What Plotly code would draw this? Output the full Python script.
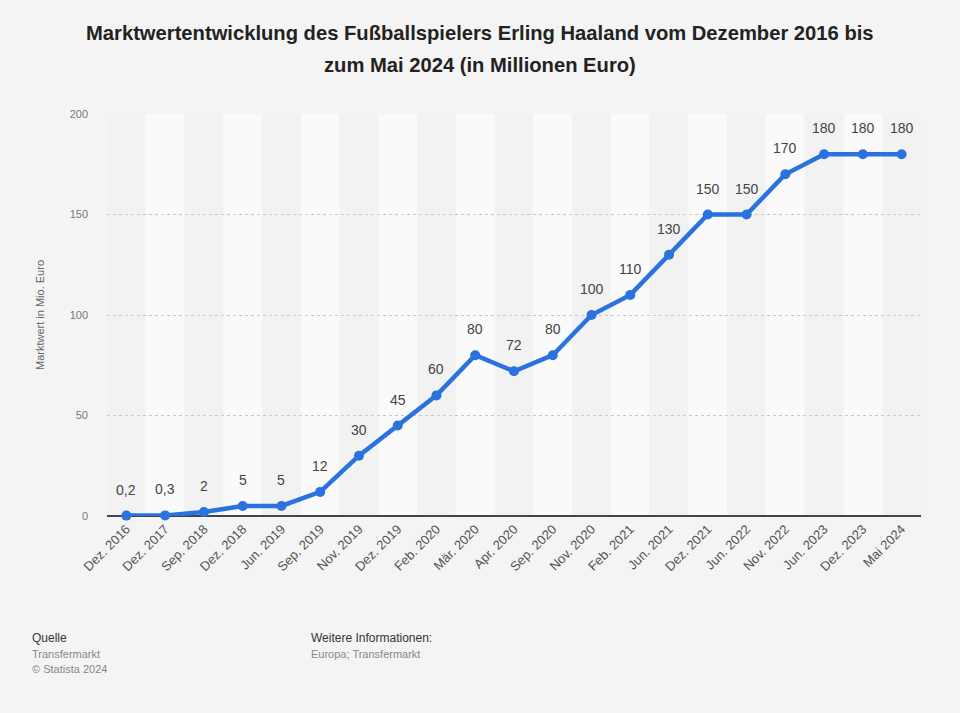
import plotly.graph_objects as go

categories = ["Dez. 2016", "Dez. 2017", "Sep. 2018", "Dez. 2018", "Jun. 2019", "Sep. 2019",
              "Nov. 2019", "Dez. 2019", "Feb. 2020", "Mär. 2020", "Apr. 2020", "Sep. 2020",
              "Nov. 2020", "Feb. 2021", "Jun. 2021", "Dez. 2021", "Jun. 2022", "Nov. 2022",
              "Jun. 2023", "Dez. 2023", "Mai 2024"]
values = [0.2, 0.3, 2, 5, 5, 12, 30, 45, 60, 80, 72, 80, 100, 110, 130, 150, 150, 170, 180, 180, 180]
labels = ["0,2", "0,3", "2", "5", "5", "12", "30", "45", "60", "80", "72", "80", "100", "110",
          "130", "150", "150", "170", "180", "180", "180"]
y_ticks = [0, 50, 100, 150, 200]

FONT = "Liberation Sans, Arial, sans-serif"
W, H = 960, 713
ML, MR, MT, MB = 107, 39, 114, 197

fig = go.Figure()
fig.add_trace(go.Scatter(
    x=list(range(len(categories))), y=values,
    mode="lines+markers",
    line=dict(color="#2a72de", width=4.5),
    marker=dict(color="#2a72de", size=10),
    cliponaxis=False, hoverinfo="skip",
))

for i, (v, t) in enumerate(zip(values, labels)):
    fig.add_annotation(x=i, y=v, xref="x", yref="y", text=t, showarrow=False,
                       yshift=26, font=dict(family=FONT, size=14, color="#444444"))

shapes = []
for i in range(len(categories)):
    shapes.append(dict(type="rect", xref="x", yref="y", x0=i - 0.5, x1=i + 0.5,
                       y0=0, y1=200, layer="below", line=dict(width=0),
                       fillcolor="#f2f2f2" if i % 2 == 0 else "#fafafa"))

fig.update_layout(
    width=W, height=H,
    paper_bgcolor="#f4f4f4", plot_bgcolor="#f4f4f4",
    margin=dict(l=ML, r=MR, t=MT, b=MB),
    shapes=shapes,
    showlegend=False,
    font=dict(family=FONT),
    xaxis=dict(
        tickmode="array", tickvals=list(range(len(categories))), ticktext=categories,
        range=[-0.5, len(categories) - 0.5], tickangle=-45,
        tickfont=dict(family=FONT, size=13, color="#555555"),
        showgrid=False, zeroline=False, showline=False, ticks="",
        automargin=False, ticklabelstandoff=2,
    ),
    yaxis=dict(
        range=[0, 200], tickvals=y_ticks,
        tickfont=dict(family=FONT, size=11, color="#777777"),
        showgrid=True, gridcolor="#c8c8c8", griddash="dot", gridwidth=1,
        zeroline=True, zerolinecolor="#444444", zerolinewidth=2,
        title=dict(text="Marktwert in Mio. Euro", font=dict(family=FONT, size=11, color="#666666"), standoff=22),
        ticks="", ticklabelstandoff=18, automargin=False,
    ),
)

def px_x(x):
    return (x - ML) / (W - ML - MR)

def px_y(y):
    return 1 - (y - MT) / (H - MT - MB)

title_lines = [
    ("<b>Marktwertentwicklung des Fußballspielers Erling Haaland vom Dezember 2016 bis</b>", 33),
    ("<b>zum Mai 2024 (in Millionen Euro)</b>", 65),
]
for t, yy in title_lines:
    fig.add_annotation(text=t, xref="paper", yref="paper", x=px_x(480), y=px_y(yy),
                       xanchor="center", yanchor="middle", showarrow=False,
                       font=dict(family=FONT, size=20.2, color="#222222"))

annotations = [
    dict(text="Quelle", x=30, y=638, font=dict(size=12, color="#333333")),
    dict(text="Transfermarkt", x=30, y=654, font=dict(size=11, color="#888888")),
    dict(text="© Statista 2024", x=30, y=669, font=dict(size=11, color="#888888")),
    dict(text="Weitere Informationen:", x=309, y=638, font=dict(size=12, color="#333333")),
    dict(text="Europa; Transfermarkt", x=309, y=654, font=dict(size=11, color="#888888")),
]
for a in annotations:
    fig.add_annotation(text=a["text"], xref="paper", yref="paper",
                       x=px_x(a["x"]), y=px_y(a["y"]),
                       xanchor="left", yanchor="middle", showarrow=False,
                       font=dict(family=FONT, **a["font"]))

fig.write_html("out.html", config={"displayModeBar": False},
               post_script="document.body.style.margin='0';document.body.style.background='#f4f4f4';document.body.style.overflow='hidden';")
